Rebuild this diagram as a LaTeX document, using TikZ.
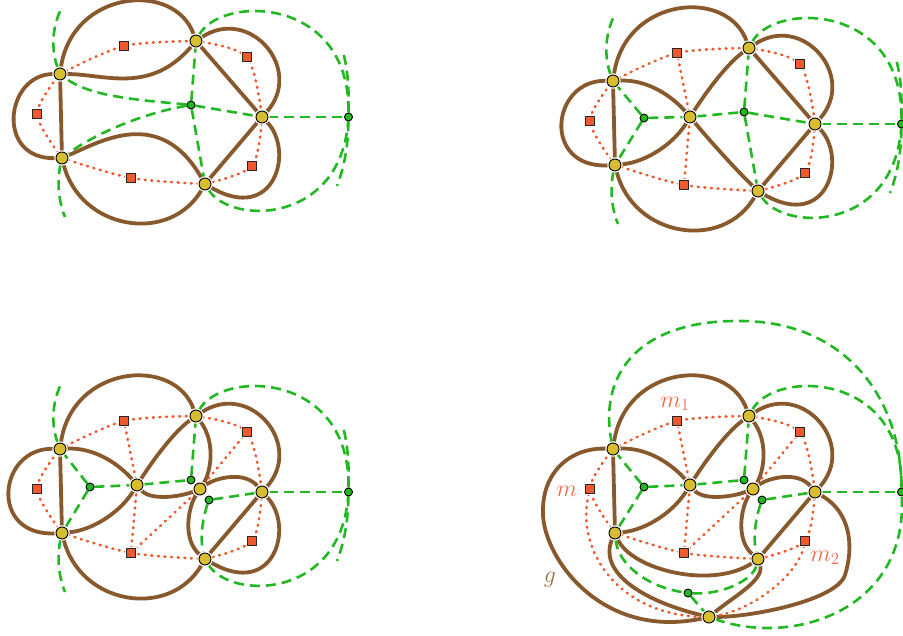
\RequirePackage{fix-cm}
\documentclass[tikz,border=0pt]{standalone}
\pgfdeclarelayer{bg}
\pgfsetlayers{bg,main}
\definecolor{brncol}{RGB}{136,89,44}
\definecolor{redcol}{RGB}{240,88,45}
\definecolor{grncol}{RGB}{34,184,34}
\definecolor{ylwcol}{RGB}{214,190,48}
\definecolor{mcol}{RGB}{240,105,75}
\definecolor{gcol}{RGB}{150,112,72}
\tikzset{
  knot/.style={draw=brncol, line width=3.8pt},
  dual/.style={draw=redcol, line width=2.6pt, line cap=round, dash pattern=on 1pt off 5.6pt},
  prim/.style={draw=grncol, line width=2.6pt, dash pattern=on 10pt off 6pt},
  vtx/.style={circle, fill=ylwcol, draw=black, line width=0.9pt, minimum size=12pt, inner sep=0pt, preaction={draw=white, line width=3.4pt}},
  rsq/.style={rectangle, fill=redcol, draw=black!85, line width=1pt, minimum size=9pt, inner sep=0pt, preaction={draw=white, line width=2.8pt}},
  gnd/.style={circle, fill=grncol, draw=black, line width=0.9pt, minimum size=8pt, inner sep=0pt},
  lab/.style={font=\fontsize{24}{28}\selectfont, inner sep=0pt}
}
\newcommand\panelnodes[1]{%
  \node[vtx] (#1A) at (60,74) {};
  \node[vtx] (#1B) at (196,41) {};
  \node[vtx] (#1C) at (262,117) {};
  \node[vtx] (#1D) at (205,184) {};
  \node[vtx] (#1E) at (62,158) {};
  \node[rsq] (#1s1) at (124,46) {};
  \node[rsq] (#1s2) at (247,57) {};
  \node[rsq] (#1s3) at (37,114) {};
  \node[rsq] (#1s4) at (131,178) {};
  \node[rsq] (#1s5) at (252,166) {};
  \node[gnd] (#1O) at (348.5,117) {};
  \node[gnd] (#1g2) at (191,105) {};
}
\newcommand\stubcoords[1]{%
  \coordinate (#1tA) at (61,9);
  \coordinate (#1tE) at (65,217);
  \coordinate (#1tOa) at (343,52);
  \coordinate (#1tOb) at (337,186);
}
\newcommand\baseknot[1]{%
  \draw[knot] (#1A) .. controls (72,-10) and (175,-20) .. (#1B);
  \draw[knot] (#1A) -- (#1E);
  \draw[knot] (#1B) .. controls (250,5) and (305,70) .. (#1C);
  \draw[knot] (#1C) -- (#1D);
}
\newcommand\outerknot[1]{%
  \draw[knot] (#1E) .. controls (80,230) and (170,245) .. (#1D);
  \draw[knot] (#1C) .. controls (295,150) and (275,225) .. (#1D);
}
\newcommand\innerknot[1]{%
  \draw[knot] (#1A) .. controls (95,72) and (120,90) .. (#1F);
  \draw[knot] (#1F) .. controls (150,90) and (172,58) .. (#1B);
  \draw[knot] (#1E) .. controls (95,155) and (122,135) .. (#1F);
}
\newcommand\Gknot[1]{%
  \draw[knot] (#1F) .. controls (150,126) and (180,122) .. (#1G);
  \draw[knot] (#1B) .. controls (215,65) and (212,95) .. (#1G);
  \draw[knot] (#1G) .. controls (188,132) and (182,165) .. (#1D);
  \draw[knot] (#1G) .. controls (215,103) and (245,95) .. (#1C);
}
\newcommand\basedual[1]{%
  \draw[dual] plot[smooth] coordinates {(#1A.center) (#1s1.center) (#1B.center)};
  \draw[dual] plot[smooth] coordinates {(#1B.center) (#1s2.center) (#1C.center)};
  \draw[dual] plot[smooth] coordinates {(#1C.center) (#1s5.center) (#1D.center)};
  \draw[dual] plot[smooth] coordinates {(#1D.center) (#1s4.center) (#1E.center)};
  \draw[dual] plot[smooth] coordinates {(#1E.center) (#1s3.center) (#1A.center)};
}
\newcommand\innerdual[1]{%
  \draw[dual] (#1s1) -- (#1F);
  \draw[dual] (#1s4) -- (#1F);
}
\newcommand\Gdual[1]{%
  \draw[dual] (#1s2) -- (#1G);
  \draw[dual] (#1s4) -- (#1G);
}
\newcommand\baseprim[1]{%
  \draw[prim] (#1g2) -- (#1B);
  \draw[prim] (#1B) .. controls (220,-5) and (350,-5) .. (#1O);
  \draw[prim] (#1C) -- (#1O);
}
\newcommand\outerprim[1]{%
  \draw[prim] (#1D) .. controls (230,225) and (340,225) .. (#1O);
  \draw[prim] (#1A) .. controls (51,50) and (52,28) .. (#1tA);
  \draw[prim] (#1E) .. controls (57,180) and (58,200) .. (#1tE);
  \draw[prim] (#1O) .. controls (349,90) and (348,70) .. (#1tOa);
  \draw[prim] (#1O) .. controls (348,145) and (345,165) .. (#1tOb);
}
\newcommand\innerprim[1]{%
  \draw[prim] (#1g1) -- (#1A);
  \draw[prim] (#1g1) -- (#1E);
  \draw[prim] (#1g1) -- (#1F);
  \draw[prim] (#1F) -- (#1g2);
}
\begin{document}
\begin{tikzpicture}[x=1pt,y=-1pt]
\useasboundingbox (0,0) rectangle (903,636);
% ---------------- panel 1 ----------------
\begin{scope}
  \panelnodes{p1}
  \stubcoords{p1}
  \begin{pgfonlayer}{bg}
    \baseknot{p1}
    \outerknot{p1}
    \draw[knot] (p1A) .. controls (5,74) and (-5,160) .. (p1E);
    \draw[knot] (p1B) -- (p1C);
    \draw[knot] (p1A) .. controls (105,74) and (150,95) .. (p1B);
    \draw[knot] (p1E) .. controls (100,142) and (160,105) .. (p1D);
    \basedual{p1}
    \baseprim{p1}
    \outerprim{p1}
    \draw[prim] (p1g2) .. controls (140,100) and (90,97) .. (p1A);
    \draw[prim] (p1g2) .. controls (150,112) and (100,130) .. (p1E);
    \draw[prim] (p1g2) -- (p1D);
    \draw[prim] (p1g2) -- (p1C);
  \end{pgfonlayer}
\end{scope}
% ---------------- panel 2 ----------------
\begin{scope}[shift={(553,7)}]
  \panelnodes{p2}
  \stubcoords{p2}
  \node[vtx] (p2F) at (137,110) {};
  \node[gnd] (p2g1) at (91,111) {};
  \begin{pgfonlayer}{bg}
    \baseknot{p2}
    \outerknot{p2}
    \innerknot{p2}
    \draw[knot] (p2A) .. controls (-2,72) and (-12,162) .. (p2E);
    \draw[knot] (p2B) -- (p2C);
    \draw[knot] (p2F) .. controls (152,128) and (180,160) .. (p2D);
    \basedual{p2}
    \innerdual{p2}
    \baseprim{p2}
    \outerprim{p2}
    \innerprim{p2}
    \draw[prim] (p2g2) -- (p2D);
    \draw[prim] (p2g2) -- (p2C);
  \end{pgfonlayer}
\end{scope}
% ---------------- panel 3 ----------------
\begin{scope}[shift={(0,375)}]
  \panelnodes{p3}
  \stubcoords{p3}
  \node[vtx] (p3F) at (137,110) {};
  \node[vtx] (p3G) at (200,114) {};
  \node[gnd] (p3g1) at (90,112) {};
  \node[gnd] (p3g3) at (209,125) {};
  \begin{pgfonlayer}{bg}
    \baseknot{p3}
    \outerknot{p3}
    \innerknot{p3}
    \Gknot{p3}
    \draw[knot] (p3A) .. controls (-2,72) and (-12,162) .. (p3E);
    \basedual{p3}
    \innerdual{p3}
    \Gdual{p3}
    \baseprim{p3}
    \outerprim{p3}
    \innerprim{p3}
    \draw[prim] (p3g3) .. controls (202,145) and (200,165) .. (p3D);
    \draw[prim] (p3g3) -- (p3C);
  \end{pgfonlayer}
\end{scope}
% ---------------- panel 4 ----------------
\begin{scope}[shift={(553,375)}]
  \panelnodes{p4}
  \node[vtx] (p4F) at (137,110) {};
  \node[vtx] (p4G) at (200,114) {};
  \node[vtx] (p4H) at (156,242) {};
  \node[gnd] (p4g1) at (91,112) {};
  \node[gnd] (p4g3) at (209,125) {};
  \node[gnd] (p4g4) at (135,218) {};
  \node[lab, text=mcol] (p4m1) at (122,29) {$m_1$};
  \node[lab, text=mcol] (p4m) at (14,116) {$m$};
  \node[lab, text=mcol] (p4m2) at (272,183) {$m_2$};
  \node[lab, text=gcol] (p4g) at (-3,205) {$g$};
  \begin{pgfonlayer}{bg}
    \baseknot{p4}
    \innerknot{p4}
    \Gknot{p4}
    \draw[knot] (p4A) .. controls (20,72) and (-12,95) .. (-10,140) .. controls (-8,185) and (50,265) .. (p4H);
    \draw[knot] (p4E) .. controls (78,195) and (160,215) .. (p4D);
    \draw[knot] (p4E) .. controls (45,195) and (85,225) .. (p4H);
    \draw[knot] (p4D) .. controls (212,205) and (180,222) .. (p4H);
    \draw[knot] (p4C) .. controls (300,138) and (300,175) .. (292,200) .. controls (284,225) and (200,242) .. (p4H);
    \basedual{p4}
    \innerdual{p4}
    \Gdual{p4}
    \draw[dual] (p4s3) .. controls (22,175) and (65,240) .. (p4H);
    \draw[dual] (p4s5) .. controls (245,200) and (200,235) .. (p4H);
    \baseprim{p4}
    \innerprim{p4}
    \draw[prim] (p4A) .. controls (45,0) and (85,-55) .. (187,-54) .. controls (290,-54) and (348,20) .. (p4O);
    \draw[prim] (p4E) .. controls (65,190) and (95,212) .. (p4g4);
    \draw[prim] (p4g3) .. controls (202,145) and (200,165) .. (p4D);
    \draw[prim] (p4g3) -- (p4C);
    \draw[prim] (p4D) .. controls (200,205) and (170,220) .. (p4g4);
    \draw[prim] (p4g4) -- (p4H);
    \draw[prim] (p4H) .. controls (240,272) and (355,235) .. (p4O);
  \end{pgfonlayer}
\end{scope}
\end{tikzpicture}
\end{document}
